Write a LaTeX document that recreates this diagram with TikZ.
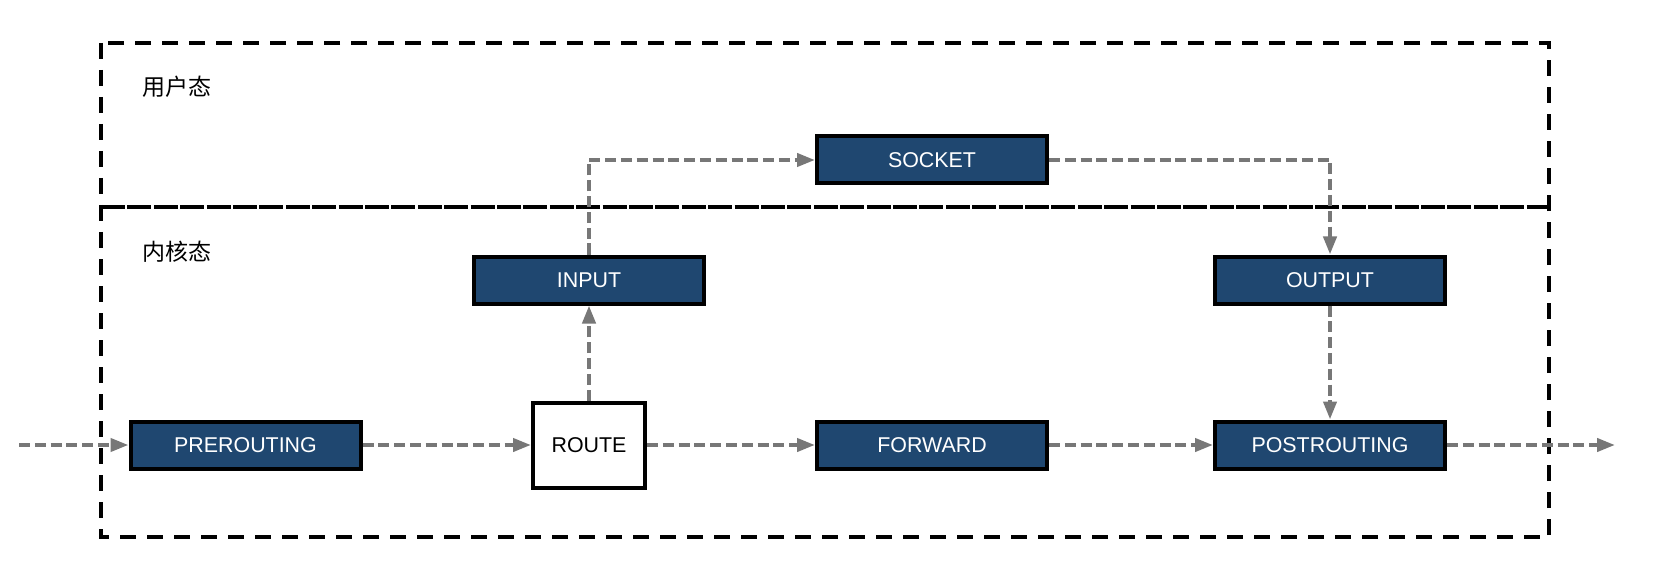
\documentclass[tikz,border=0pt]{standalone}
\usepackage{fontspec}
\setmainfont{Liberation Sans}
\newfontfamily\cjk{Noto Sans CJK SC}
\usepackage{xcolor}
\usetikzlibrary{arrows.meta,positioning}

\definecolor{hookblue}{RGB}{31,71,112}
\definecolor{flowgray}{RGB}{119,119,119}

\begin{document}
\begin{tikzpicture}[x=0.5pt, y=-0.5pt,
  every node/.style={font=\fontsize{10.7}{12}\selectfont},
  hk/.style  ={rectangle, draw=black, fill=hookblue, text=white, line width=2pt,
               minimum width=115pt, minimum height=23.5pt, inner sep=0pt},
  rt/.style  ={rectangle, draw=black, fill=white, text=black, line width=2pt,
               minimum width=56pt, minimum height=42.5pt, inner sep=0pt},
  zone/.style={draw=black, line width=2pt, dash pattern=on 8pt off 5.5pt},
  sep/.style ={draw=black, line width=2pt, dash pattern=on 12pt off 1.2pt},
  zl/.style  ={anchor=west, inner sep=0pt, font=\cjk\fontsize{11.5}{13}\selectfont},
  ca/.style  ={-{Triangle[length=9pt,width=6.5pt]}, draw=flowgray, line width=2pt,
               dash pattern=on 5.5pt off 2.4pt},
]
\useasboundingbox (0,0) rectangle (1674,572);

%% Coordinates are in pixels of the 1674 x 572 frame (1px = 0.5pt, y down)
%%   hook row      y = 445      upper row  y = 280      socket  y = 160
%%   columns       x = 245.5 / 589 / 932 / 1330

%% ─── Zones ───────────────────────────────────────────────────────────────────
\draw[zone] (101,43) rectangle (1549,537);
\draw[sep]  (101,207) -- (1549,207);

\node[zl] (US) at (142,87)  {用户态};
\node[zl] (KS) at (142,252) {内核态};

%% ─── Hooks ───────────────────────────────────────────────────────────────────
\node[hk] (SOCK) at (932,160)   {SOCKET};
\node[hk] (IN)   at (589,280)   {INPUT};
\node[hk] (OUT)  at (1330,280)  {OUTPUT};
\node[hk] (PRE)  at (245.5,445) {PREROUTING};
\node[rt] (RT)   at (589,445)   {ROUTE};
\node[hk] (FWD)  at (932,445)   {FORWARD};
\node[hk] (POST) at (1330,445)  {POSTROUTING};

\coordinate (src) at (19,445);
\coordinate (dst) at (1615,445);

%% ─── Packet flow ─────────────────────────────────────────────────────────────
\draw[ca] (src)  -- (PRE.west);
\draw[ca] (PRE)  -- (RT);
\draw[ca] (RT)   -- (FWD);
\draw[ca] (FWD)  -- (POST);
\draw[ca] (POST) -- (dst);

% local delivery and local output
\draw[ca] (RT)   -- (IN);
\draw[ca] (IN.north)  |- (SOCK.west);
\draw[ca] (SOCK.east) -| (OUT.north);
\draw[ca] (OUT)  -- (POST);

\end{tikzpicture}
\end{document}
